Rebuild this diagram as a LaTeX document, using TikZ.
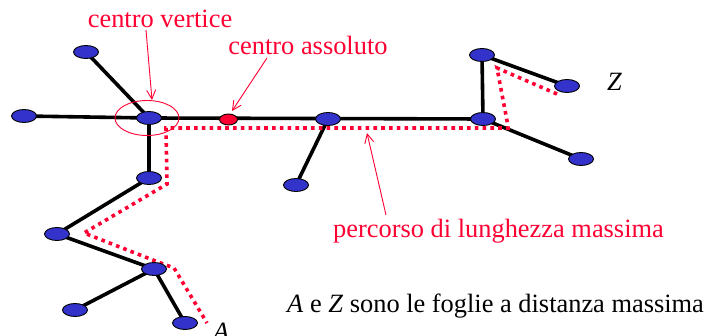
\documentclass[tikz,border=0pt]{standalone}
\usepackage{fontspec}
\setmainfont{Liberation Serif}
\usetikzlibrary{arrows.meta,shapes.geometric}
\definecolor{vred}{RGB}{255,0,51}
\definecolor{vblue}{RGB}{51,51,204}
\tikzset{
  vert/.style={ellipse,draw=black,line width=0.9pt,fill=vblue,minimum width=25pt,minimum height=13pt,inner sep=0pt},
  cvert/.style={ellipse,draw=black,line width=0.9pt,fill=vred,minimum width=18pt,minimum height=11pt,inner sep=0pt},
  edge/.style={line width=3.6pt,black},
  longpath/.style={line width=3.6pt,vred,dash pattern=on 3.6pt off 4.2pt},
  ring/.style={ellipse,draw=vred,line width=0.9pt,minimum width=64pt,minimum height=35pt,inner sep=0pt},
  lab/.style={font=\fontsize{26.4}{31}\selectfont,inner sep=0pt},
  redlab/.style={lab,text=vred},
  pointer/.style={vred,line width=0.9pt,-{Straight Barb[length=9pt,width=9pt,line width=0.9pt]}}
}
\begin{document}
\begin{tikzpicture}[x=1pt,y=-1pt]
\clip (0,0) rectangle (704,336);
\fill[white] (0,0) rectangle (704,336);
% vertex positions
\coordinate (p1) at (86,52);
\coordinate (p2) at (24,116);
\coordinate (pcv) at (149,118);
\coordinate (pca) at (228.5,119.5);
\coordinate (p3) at (328,119);
\coordinate (p4) at (483,119);
\coordinate (p5) at (482,55);
\coordinate (pz) at (567,86);
\coordinate (p6) at (581,159);
\coordinate (p7) at (296,185);
\coordinate (p8) at (149,178);
\coordinate (p9) at (57,234);
\coordinate (p10) at (154,269);
\coordinate (p11) at (75,310);
\coordinate (p12) at (185,323);
% edges
\draw[edge] (p1) -- (pcv);
\draw[edge] (p2) -- (pcv);
\draw[edge] (pcv) -- (p4);
\draw[edge] (p3) -- (p7);
\draw[edge] (p4) -- (p5);
\draw[edge] (p5) -- (pz);
\draw[edge] (p4) -- (p6);
\draw[edge] (pcv) -- (p8);
\draw[edge] (p8) -- (p9);
\draw[edge] (p9) -- (p10);
\draw[edge] (p10) -- (p11);
\draw[edge] (p10) -- (p12);
% longest path
\draw[longpath] (557,94) -- (497,68) -- (508,126) -- (508,128) -- (166,128) -- (167,184) -- (84,233) -- (158,262) -- (174,268) -- (207,323);
% vertices
\node[vert] (n1) at (p1) {};
\node[vert] (n2) at (p2) {};
\node[vert] (cv) at (pcv) {};
\node[cvert] (ca) at (pca) {};
\node[vert] (n3) at (p3) {};
\node[vert] (n4) at (p4) {};
\node[vert] (n5) at (p5) {};
\node[vert] (z) at (pz) {};
\node[vert] (n6) at (p6) {};
\node[vert] (n7) at (p7) {};
\node[vert] (n8) at (p8) {};
\node[vert] (n9) at (p9) {};
\node[vert] (n10) at (p10) {};
\node[vert] (n11) at (p11) {};
\node[vert] (a) at (p12) {};
\node[ring] (cvring) at (147,118) {};
% labels
\node[redlab,anchor=base] (lcv) at (160,28) {centro vertice};
\node[redlab,anchor=base] (lca) at (308,55) {centro assoluto};
\node[redlab,anchor=base west] (lpath) at (333,238) {percorso di lunghezza massima};
\node[lab,anchor=base west] (lz) at (607,91) {\textit{Z}};
\node[lab,anchor=base west] (la) at (213,341) {\textit{A}};
\node[lab,anchor=base west] (lnote) at (287,313) {\textit{A} e \textit{Z} sono le foglie a distanza massima};
% pointers
\coordinate (s1) at (146,30);
\coordinate (t1) at (152,100);
\coordinate (s2) at (267,58);
\coordinate (t2) at (232,111);
\coordinate (s3) at (386,215);
\coordinate (t3) at (367,133);
\draw[pointer] (s1) -- (t1);
\draw[pointer] (s2) -- (t2);
\draw[pointer] (s3) -- (t3);
\end{tikzpicture}
\end{document}
